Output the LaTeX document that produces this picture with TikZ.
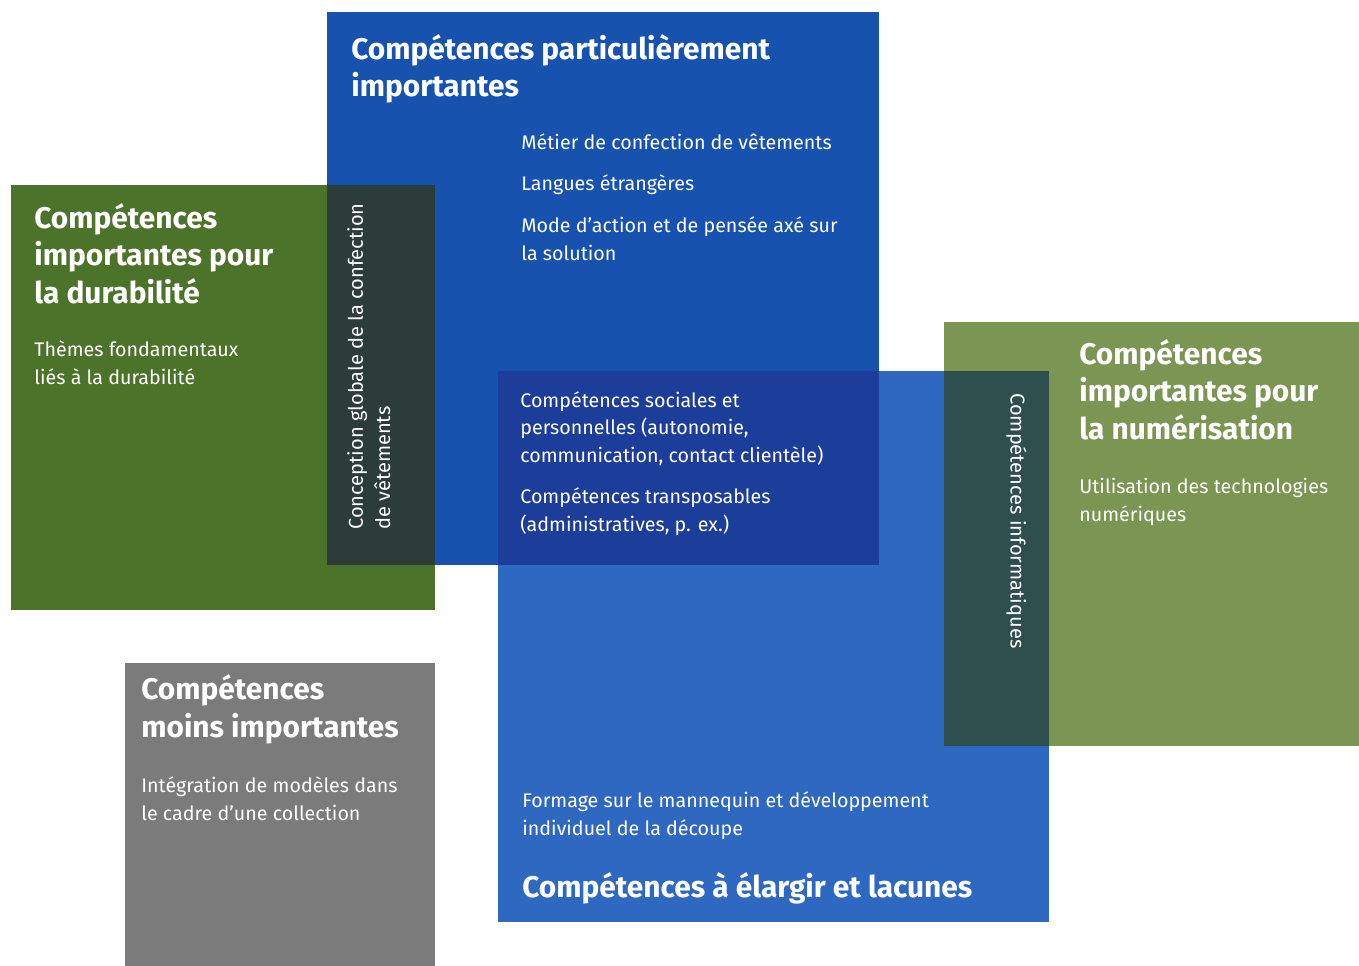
\documentclass[tikz,border=0pt]{standalone}
\usepackage{fontspec}
\setmainfont{Fira Sans}
\usetikzlibrary{positioning}
\definecolor{cblueup}{HTML}{1652AE}
\definecolor{cbluelow}{HTML}{2F68C0}
\definecolor{cnavy}{HTML}{1C3E9A}
\definecolor{cgreen}{HTML}{4B7329}
\definecolor{colive}{HTML}{7B9552}
\definecolor{cstripl}{HTML}{2C3C38}
\definecolor{cstripr}{HTML}{2F4F4E}
\definecolor{cgrey}{HTML}{7B7B7B}
\tikzset{
  every picture/.style={font=\rmfamily},
  head/.style={text=white, anchor=base west, align=left, inner sep=0pt,
    font=\fontsize{17}{21.3}\selectfont\bfseries},
  item/.style={text=white, anchor=base west, align=left, inner sep=0pt,
    font=\fontsize{11.2}{15.4}\selectfont},
  side/.style={text=white, anchor=north west, align=left, inner sep=0pt,
    font=\fontsize{11.4}{15.4}\selectfont},
}

\begin{document}
\begin{tikzpicture}[x=0.02cm, y=-0.02cm]
  \useasboundingbox (0,0) rectangle (1359,966);
  % panels
  \fill[cblueup] (327,12) rectangle (879,565);
  \fill[cgreen] (11,185) rectangle (435,610);
  \fill[cstripl] (327,185) rectangle (435,565);
  \fill[cbluelow] (498,371) rectangle (1049,922);
  \fill[cnavy] (498,371) rectangle (879,565);
  \fill[colive] (944,322) rectangle (1359,746);
  \fill[cstripr] (944,371) rectangle (1049,746);
  \fill[cgrey] (125,663) rectangle (435,966);
  % texts (anchored on the baseline of their last line)
  \node[head] (tpart) at (351,97) {Compétences particulièrement\\importantes};
  \node[item] (metier) at (521,150) {Métier de confection de vêtements};
  \node[item] (langues) at (521,191) {Langues étrangères};
  \node[item] (mode) at (521,260) {Mode d’action et de pensée axé sur\\la solution};
  \node[head] (tdur) at (34,303) {Compétences\\importantes pour\\la durabilité};
  \node[item] (themes) at (34,384) {Thèmes fondamentaux\\liés à la durabilité};
  \node[side, rotate=90] (concep) at (347,530) {Conception globale de la confection\\de vêtements};
  \node[item] (social) at (520,462) {Compétences sociales et\\personnelles (autonomie,\\communication, contact clientèle)};
  \node[item] (transp) at (520,531) {Compétences transposables\\(administratives, p. ex.)};
  \node[side, rotate=-90] (info) at (1027,393) {Compétences informatiques};
  \node[head] (tnum) at (1079,439) {Compétences\\importantes pour\\la numérisation};
  \node[item] (util) at (1079,521) {Utilisation des technologies\\numériques};
  \node[item] (formage) at (522,835) {Formage sur le mannequin et développement\\individuel de la découpe};
  \node[head] (telarg) at (522,897) {Compétences à élargir et lacunes};
  \node[head] (tmoins) at (141,737) {Compétences\\moins importantes};
  \node[item] (integ) at (141,820) {Intégration de modèles dans\\le cadre d’une collection};
\end{tikzpicture}
\end{document}
